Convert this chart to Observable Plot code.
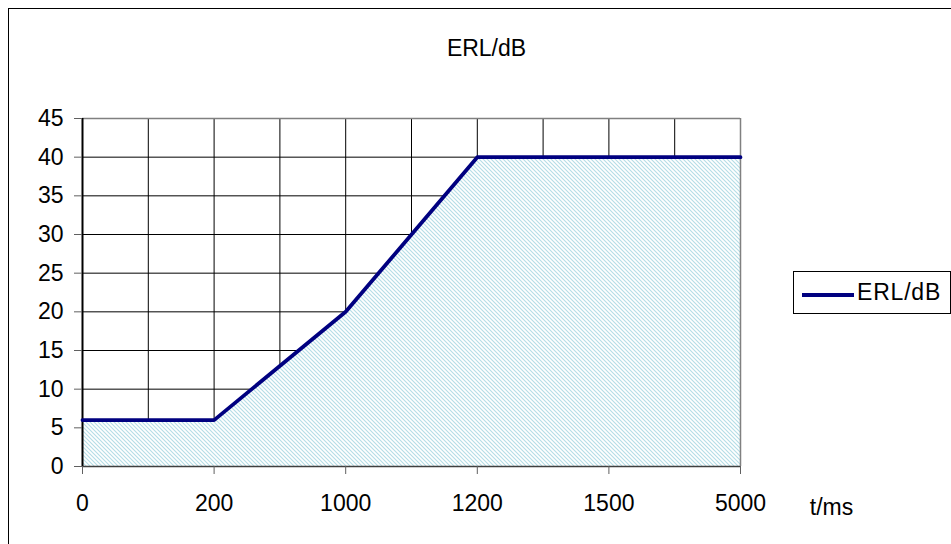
<!DOCTYPE html>
<html>
<head>
<meta charset="utf-8">
<script src="https://cdn.jsdelivr.net/npm/d3@7"></script>
<script src="https://cdn.jsdelivr.net/npm/@observablehq/plot@0.6"></script>
<style>
  html, body { margin: 0; padding: 0; background: #fff; overflow: hidden; }
  #wrap { position: relative; width: 951px; height: 544px; overflow: hidden; font-family: "Liberation Sans", Arial, sans-serif; }
  #frame { position: absolute; left: 8px; top: 8px; width: 980px; height: 580px; border: 1.5px solid #000; pointer-events: none; }
  #legend { position: absolute; left: 793px; top: 271px; width: 158px; height: 43px; border: 1px solid #000; box-sizing: border-box; background: #fff; }
  #legend .sw { position: absolute; left: 8px; top: 21px; width: 52px; height: 3.5px; background: #000080; }
  #legend .lb { position: absolute; left: 63px; top: 6px; font-size: 23px; line-height: 28px; color: #000; letter-spacing: 0.8px; }
</style>
</head>
<body>
<div id="wrap">
  <div id="chart"></div>
  <div id="frame"></div>
  <div id="legend"><div class="sw"></div><div class="lb" id="legendLabel"></div></div>
</div>
<script>
const title = "ERL/dB";
const xLabel = "t/ms";
const seriesName = "ERL/dB";
const tLabels = ["0", "200", "1000", "1200", "1500", "5000"];
const erlValues = [6, 6, 20, 40, 40, 40];
const yTicks = [0, 5, 10, 15, 20, 25, 30, 35, 40, 45];
const xGrid = [0, 0.5, 1, 1.5, 2, 2.5, 3, 3.5, 4, 4.5, 5];

document.getElementById("legendLabel").textContent = seriesName;

const data = tLabels.map((t, i) => ({i, t, erl: erlValues[i]}));
const xIdx = tLabels.map((_, i) => i);

const plot = Plot.plot({
  width: 951,
  height: 544,
  marginLeft: 82,
  marginRight: 211,
  marginTop: 118,
  marginBottom: 78,
  style: {fontFamily: "'Liberation Sans', Arial, sans-serif", fontSize: "23px", background: "transparent", color: "#000"},
  x: {domain: [0, 5]},
  y: {domain: [0, 45]},
  marks: [
    Plot.ruleX(xGrid, {stroke: "#000", strokeWidth: 1}),
    Plot.ruleY(yTicks, {stroke: "#000", strokeWidth: 1}),
    Plot.areaY(data, {x: "i", y: "erl", fill: "url(#hatch)", fillOpacity: 1}),
    Plot.ruleY([45], {stroke: "#808080", strokeWidth: 1.5}),
    Plot.ruleX([5], {stroke: "#808080", strokeWidth: 1.5}),
    Plot.ruleY([0], {stroke: "#404040", strokeWidth: 1.5}),
    Plot.ruleX([0], {stroke: "#000", strokeWidth: 2}),
    Plot.axisY({ticks: yTicks, tickSize: 8, tickPadding: 11, stroke: "#606060", fontSize: 23, label: null}),
    Plot.axisX({ticks: xIdx, tickFormat: i => tLabels[i], tickSize: 8, tickPadding: 20, stroke: "#606060", fontSize: 23, label: null}),
    Plot.line(data, {x: "i", y: "erl", stroke: "#000080", strokeWidth: 3.8}),
    Plot.text([title], {frameAnchor: "top", dx: 75, dy: -79, fontSize: 23, fill: "#000", letterSpacing: 1.2}),
    Plot.text([xLabel], {frameAnchor: "bottom-right", textAnchor: "middle", dx: 91, dy: 48, fontSize: 23, fill: "#000", letterSpacing: 1.5})
  ]
});

const ns = "http://www.w3.org/2000/svg";
const defs = document.createElementNS(ns, "defs");
defs.innerHTML = `<pattern id="hatch" patternUnits="userSpaceOnUse" width="4" height="4">
  <rect width="4" height="4" fill="#ffffff"/>
  <path d="M-1,-1 L5,5 M-1,3 L1,5 M3,-1 L5,1" stroke="#b4dde6" stroke-width="1.1"/>
</pattern>`;
plot.insertBefore(defs, plot.firstChild);
document.getElementById("chart").appendChild(plot);
</script>
</body>
</html>
